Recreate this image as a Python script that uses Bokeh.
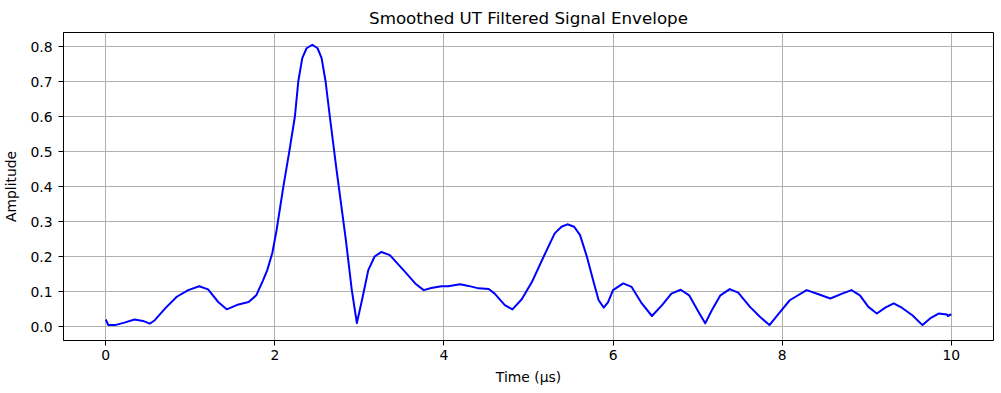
from bokeh.plotting import figure
from bokeh.models import Range1d, FixedTicker, NumeralTickFormatter
from bokeh.embed import file_html
from bokeh.resources import INLINE

time_us = [0.00, 0.03, 0.11, 0.22, 0.34, 0.44, 0.52, 0.58, 0.70, 0.84, 0.975, 1.105, 1.21,
           1.33, 1.43, 1.57, 1.69, 1.78, 1.86, 1.91, 1.97, 2.02, 2.10, 2.17, 2.237, 2.277,
           2.324, 2.375, 2.443, 2.505, 2.553, 2.60, 2.65, 2.73, 2.84, 2.91, 2.97, 3.03, 3.105,
           3.18, 3.26, 3.36, 3.54, 3.66, 3.76, 3.85, 3.97, 4.05, 4.19, 4.29, 4.41, 4.53, 4.60,
           4.72, 4.81, 4.92, 5.04, 5.18, 5.31, 5.39, 5.46, 5.54, 5.61, 5.69, 5.77, 5.83, 5.89,
           5.94, 6.00, 6.12, 6.22, 6.34, 6.46, 6.58, 6.69, 6.80, 6.90, 7.01, 7.09, 7.17, 7.27,
           7.38, 7.48, 7.62, 7.74, 7.85, 7.96, 8.09, 8.29, 8.43, 8.57, 8.71, 8.82, 8.92, 9.02,
           9.12, 9.22, 9.32, 9.42, 9.54, 9.66, 9.75, 9.85, 9.95, 9.96, 10.0]
amplitude = [0.020, 0.004, 0.004, 0.011, 0.020, 0.016, 0.008, 0.018, 0.051, 0.085, 0.104,
             0.115, 0.106, 0.070, 0.049, 0.063, 0.070, 0.089, 0.132, 0.161, 0.210, 0.275,
             0.399, 0.499, 0.600, 0.700, 0.767, 0.795, 0.805, 0.795, 0.767, 0.700, 0.600,
             0.447, 0.247, 0.104, 0.010, 0.075, 0.161, 0.200, 0.213, 0.204, 0.156, 0.123,
             0.104, 0.110, 0.115, 0.115, 0.121, 0.116, 0.109, 0.107, 0.094, 0.061, 0.049,
             0.078, 0.127, 0.200, 0.266, 0.285, 0.292, 0.285, 0.261, 0.200, 0.127, 0.075,
             0.054, 0.069, 0.104, 0.123, 0.113, 0.066, 0.030, 0.061, 0.094, 0.105, 0.089,
             0.042, 0.009, 0.047, 0.089, 0.107, 0.097, 0.056, 0.027, 0.004, 0.037, 0.075,
             0.104, 0.092, 0.080, 0.094, 0.104, 0.089, 0.056, 0.037, 0.054, 0.066, 0.053,
             0.032, 0.004, 0.023, 0.037, 0.034, 0.030, 0.035]
x_ticks = [0, 2, 4, 6, 8, 10]
y_ticks = [0.0, 0.1, 0.2, 0.3, 0.4, 0.5, 0.6, 0.7, 0.8]

FONT = "DejaVu Sans"

p = figure(frame_width=930, frame_height=308, output_backend="svg", toolbar_location=None,
           x_range=Range1d(-0.5, 10.5), y_range=Range1d(-0.04, 0.84),
           title="Smoothed UT Filtered Signal Envelope",
           min_border_left=57, min_border_right=1, min_border_top=24, min_border_bottom=40)

p.title.align = "center"
p.title.text_font = FONT
p.title.text_font_size = "16.7px"
p.title.text_font_style = "normal"
p.title.text_color = "black"

p.line(time_us, amplitude, line_color="#0000ff", line_width=2, line_join="round")

p.outline_line_color = "black"
p.outline_line_width = 1
p.outline_line_alpha = 1

for ax in (p.xaxis[0], p.yaxis[0]):
    ax.axis_line_color = "black"
    ax.major_tick_line_color = "black"
    ax.major_tick_out = 5
    ax.major_tick_in = 0
    ax.minor_tick_line_color = None
    ax.major_label_standoff = 4
    ax.axis_label_standoff = 6
    ax.major_label_text_font = FONT
    ax.major_label_text_font_size = "13.9px"
    ax.major_label_text_color = "black"
    ax.axis_label_text_font = FONT
    ax.axis_label_text_font_size = "13.9px"
    ax.axis_label_text_font_style = "normal"
    ax.axis_label_text_color = "black"

p.yaxis.major_label_standoff = 6
p.yaxis.axis_label_standoff = 8

p.xaxis.ticker = FixedTicker(ticks=x_ticks)
p.yaxis.ticker = FixedTicker(ticks=y_ticks)
p.yaxis.formatter = NumeralTickFormatter(format="0.0")
p.xaxis.axis_label = "Time (µs)"
p.yaxis.axis_label = "Amplitude"

p.grid.grid_line_color = "#b0b0b0"
p.grid.grid_line_width = 1

open("out.html", "w").write(file_html(p, INLINE))
